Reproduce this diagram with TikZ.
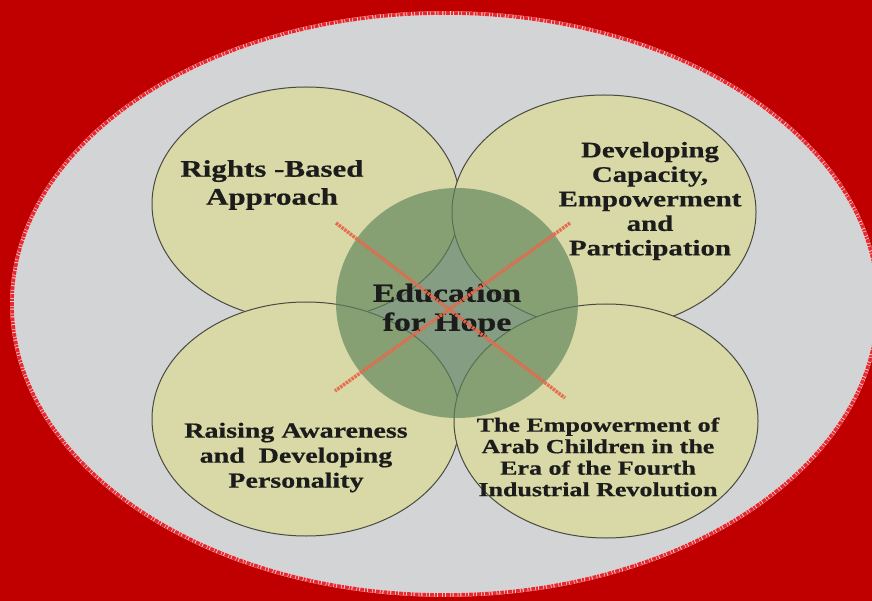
\documentclass[tikz,border=0pt]{standalone}
\usepackage{fontspec}
\newfontfamily\labfont{Liberation Serif}[FakeStretch=1.3,FakeBold=0.6]
\usetikzlibrary{shapes.geometric}
\definecolor{bgred}{HTML}{C00000}
\definecolor{ovalgray}{HTML}{D3D4D6}
\definecolor{petal}{HTML}{D8D9A6}
\definecolor{petalline}{HTML}{4A4A42}
\definecolor{hub}{HTML}{5F845B}
\definecolor{xred}{HTML}{E8684C}
\definecolor{rim}{HTML}{E52A32}
\definecolor{ink}{HTML}{1C1C1C}
\begin{document}
\begin{tikzpicture}[x=1pt,y=-1pt,
  petalbox/.style={ellipse, draw=petalline, line width=1pt, fill=petal, inner sep=0pt, outer sep=0pt},
  hubbox/.style={ellipse, fill=hub, fill opacity=0.67, inner sep=0pt, outer sep=0pt},
  lab/.style={align=center, text=ink, inner sep=0pt},
  xline/.style={draw=xred, line width=3.5pt, dash pattern=on 2.5pt off 1pt, opacity=0.95}]
\clip (0,0) rectangle (872,601);
\fill[bgred] (0,0) rectangle (872,601);
% big oval
\fill[ovalgray] (445,304) ellipse [x radius=433, y radius=291];
\draw[white!85!rim, line width=3.6pt] (445,304) ellipse [x radius=433, y radius=291];
\draw[rim, line width=3.6pt, dash pattern=on 4pt off 1pt on 2pt off 0.8pt] (445,304) ellipse [x radius=433, y radius=291];
% petals
\node[petalbox, minimum width=308pt, minimum height=234pt] (tl) at (306,204) {};
\node[petalbox, minimum width=304pt, minimum height=234pt] (tr) at (604,212) {};
\node[petalbox, minimum width=308pt, minimum height=234pt] (bl) at (306,419) {};
\node[petalbox, minimum width=304pt, minimum height=234pt] (br) at (606,421) {};
% hub
\node[hubbox, minimum width=242pt, minimum height=230pt] (hub) at (457,303) {};
% labels
\node[lab, font=\fontsize{23.8}{28}\selectfont\labfont\bfseries] (t1) at (272,185) {Rights -Based\\Approach};
\node[lab, font=\fontsize{22.2}{24.5}\selectfont\labfont\bfseries] (t2) at (650,201) {Developing\\Capacity,\\Empowerment\\and\\Participation};
\node[lab, font=\fontsize{21.5}{25}\selectfont\labfont\bfseries] (t3) at (296,457.5) {Raising Awareness\\and~ Developing\\Personality};
\node[lab, font=\fontsize{20}{21.5}\selectfont\labfont\bfseries] (t4) at (598,457) {The Empowerment of\\Arab Children in the\\Era of the Fourth\\Industrial Revolution};
\node[lab, font=\fontsize{26}{29}\selectfont\labfont\bfseries] (hubtext) at (447,310) {Education\\for Hope};
% red cross
\coordinate (xa1) at (336,223);
\coordinate (xa2) at (565,398);
\coordinate (xb1) at (570,223);
\coordinate (xb2) at (335,391);
\draw[xline] (xa1) -- (xa2);
\draw[xline] (xb1) -- (xb2);
\end{tikzpicture}
\end{document}
